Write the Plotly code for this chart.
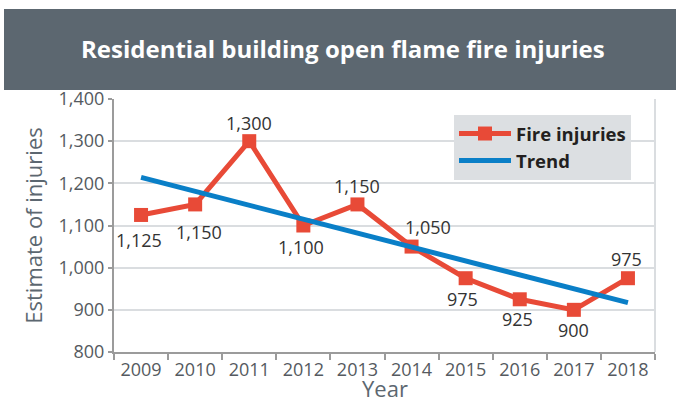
import plotly.graph_objects as go

# Yearly estimates of residential open flame fire injuries
years = [2009, 2010, 2011, 2012, 2013, 2014, 2015, 2016, 2017, 2018]
year_labels = ["2009", "2010", "2011", "2012", "2013", "2014", "2015", "2016", "2017", "2018"]
injuries = [1125, 1150, 1300, 1100, 1150, 1050, 975, 925, 900, 975]

# Linear trend, endpoints at first and last year
trend_years = [2009, 2018]
trend_values = [1214, 917]

y_ticks = [800, 900, 1000, 1100, 1200, 1300, 1400]

RED = "#e84a37"
BLUE = "#0a7fc7"
BAND = "#5c6770"
GRID = "#dadde0"
AXIS = "#9b9b9b"
FONT = "Open Sans"

W, H = 676, 402
ML, MR, MT, MB = 114, 21, 99, 50
PW, PH = W - ML - MR, H - MT - MB


def px_x(px):
    return (px - ML) / PW


def px_y(py):
    return (H - MB - py) / PH


fig = go.Figure()

fig.add_trace(go.Scatter(
    x=years, y=injuries, name="Fire injuries",
    mode="lines+markers",
    line=dict(color=RED, width=5),
    marker=dict(symbol="square", size=14, color=RED),
))
fig.add_trace(go.Scatter(
    x=trend_years, y=trend_values, name="Trend",
    mode="lines",
    line=dict(color=BLUE, width=5),
))

# Value labels, nudged above or below each marker
label_dx = [-2, 4, 0, -2, 0, 16, -3, -2, 0, -1]
label_dy = [-25, -28, 18, -21, 18, 20, -21, -20, -20, 19]
for yr, v, dx, dy in zip(years, injuries, label_dx, label_dy):
    fig.add_annotation(
        x=yr, y=v, text=f"{v:,}", showarrow=False,
        xshift=dx, yshift=dy, xanchor="center", yanchor="middle",
        font=dict(family=FONT, size=18, color="#333333"),
    )

# Header band with title
fig.add_shape(type="rect", xref="paper", yref="paper",
              x0=px_x(4), x1=px_x(680), y0=px_y(90), y1=px_y(9),
              fillcolor=BAND, line=dict(width=0), layer="below")
fig.add_annotation(
    xref="paper", yref="paper", x=px_x(343), y=px_y(48),
    text="Residential building open flame fire injuries", showarrow=False,
    xanchor="center", yanchor="middle",
    font=dict(family=FONT, size=24, color="white", weight="bold"),
)

# X axis title, set just under the tick labels
fig.add_annotation(
    xref="paper", yref="paper", x=0.5, y=px_y(388),
    text="Year", showarrow=False, xanchor="center", yanchor="middle",
    borderpad=0,
    font=dict(family=FONT, size=22, color="#5c6770"),
)

# Right border of the plot area
fig.add_shape(type="line", xref="paper", yref="paper",
              x0=1, x1=1, y0=0, y1=1, line=dict(color=GRID, width=2))

# Category boundaries for the x ticks
boundaries = [y - 0.5 for y in years] + [years[-1] + 0.5]

fig.update_layout(
    width=W, height=H,
    margin=dict(l=ML, r=MR, t=MT, b=MB, autoexpand=False),
    paper_bgcolor="white", plot_bgcolor="white",
    font=dict(family=FONT, color="#555a60"),
    showlegend=True,
    legend=dict(
        x=px_x(454), y=px_y(115), xanchor="left", yanchor="top",
        bgcolor="#dcdfe2", borderwidth=0,
        font=dict(family=FONT, size=18.5, color="#231f20", weight="bold"),
        tracegroupgap=0, itemwidth=52,
    ),
    xaxis=dict(
        range=[boundaries[0], boundaries[-1]], automargin=False,
        tickvals=years, ticktext=year_labels, ticks="",
        minor=dict(tickvals=boundaries, ticks="outside", ticklen=6,
                   tickwidth=2, tickcolor=AXIS, showgrid=False),
        showline=True, linecolor=AXIS, linewidth=2,
        showgrid=False, zeroline=False,
        tickfont=dict(family=FONT, size=18, color="#555a60"),
    ),
    yaxis=dict(
        range=[800, 1400], automargin=False,
        tickvals=y_ticks, ticktext=[f"{t:,}" for t in y_ticks],
        ticks="outside", ticklen=4, tickwidth=2, tickcolor=AXIS,
        showline=True, linecolor=AXIS, linewidth=2,
        showgrid=True, gridcolor=GRID, gridwidth=2, zeroline=False,
        tickfont=dict(family=FONT, size=18, color="#555a60"),
        title=dict(text="Estimate of injuries", standoff=10,
                   font=dict(family=FONT, size=22, color="#5c6770")),
    ),
)

fig.write_html("out.html")
